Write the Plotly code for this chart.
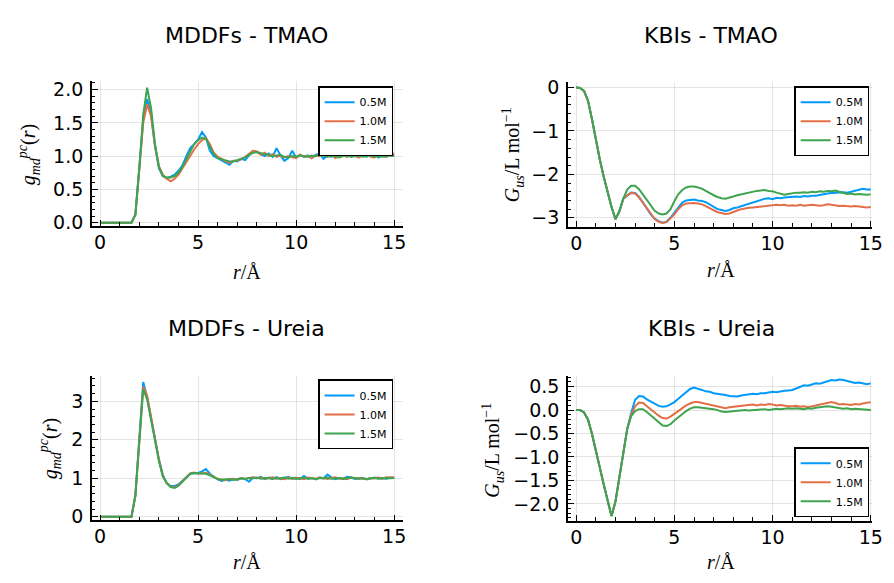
import plotly.graph_objects as go

# ---------------- data ----------------
r = [round(0.2 * i, 1) for i in range(76)]
labels = ["0.5M", "1.0M", "1.5M"]
colors = ["#009AFA", "#E36F47", "#3EA44E"]

# MDDFs - TMAO
mddf_tmao_05 = [0, 0, 0, 0, 0, 0, 0, 0, 0,
    0.12, 0.78, 1.55, 1.86, 1.62, 1.15, 0.82, 0.70, 0.67, 0.69, 0.72, 0.78, 0.86, 1.00, 1.12, 1.18,
    1.25, 1.36, 1.28, 1.08, 1.00, 0.97, 0.94, 0.90, 0.87, 0.93, 0.92, 0.96, 0.94, 1.01, 1.08, 1.06,
    1.03, 1.00, 1.04, 0.99, 1.12, 1.01, 0.93, 0.97, 1.08, 0.98, 1.02, 0.99, 1.01, 0.97, 1.02, 1.03,
    0.96, 1.01, 0.99, 1.04, 1.00, 1.02, 1.06, 0.99, 1.01, 0.98, 1.02, 0.99, 1.05, 1.04, 0.98, 1.01,
    0.99, 1.03, 1.02]
mddf_tmao_10 = [0, 0, 0, 0, 0, 0, 0, 0, 0,
    0.12, 0.76, 1.50, 1.78, 1.60, 1.16, 0.85, 0.72, 0.66, 0.62, 0.66, 0.72, 0.82, 0.92, 1.02, 1.10,
    1.18, 1.24, 1.27, 1.18, 1.05, 0.99, 0.96, 0.92, 0.90, 0.93, 0.93, 0.95, 0.99, 1.03, 1.08, 1.07,
    1.02, 1.05, 1.00, 1.03, 0.99, 1.01, 0.98, 1.00, 0.98, 0.97, 1.02, 0.99, 1.00, 0.97, 1.01, 1.00,
    1.03, 0.99, 1.02, 0.97, 1.00, 1.01, 0.99, 1.02, 1.00, 0.98, 1.01, 1.03, 0.99, 0.98, 1.01, 1.00,
    0.99, 1.02, 1.04]
mddf_tmao_15 = [0, 0, 0, 0, 0, 0, 0, 0, 0,
    0.12, 0.80, 1.62, 2.03, 1.72, 1.18, 0.84, 0.70, 0.68, 0.68, 0.70, 0.75, 0.84, 0.96, 1.08, 1.18,
    1.24, 1.28, 1.26, 1.14, 1.03, 0.97, 0.95, 0.93, 0.92, 0.92, 0.94, 0.96, 0.98, 1.02, 1.05, 1.06,
    1.04, 1.03, 1.02, 1.00, 1.01, 1.02, 0.99, 0.98, 1.00, 0.99, 1.01, 1.00, 0.99, 1.01, 1.00, 1.02,
    1.00, 0.99, 1.01, 1.00, 0.98, 1.00, 1.01, 0.99, 1.00, 1.01, 0.99, 1.00, 1.01, 0.99, 1.00, 0.99,
    1.00, 1.01, 1.00]

# KBIs - TMAO
kbi_tmao_05 = [0, -0.01, -0.08, -0.30, -0.72, -1.20, -1.65, -2.05, -2.40, -2.75, -3.03, -2.85, -2.56,
    -2.48, -2.42, -2.43, -2.52, -2.65, -2.79, -2.92, -3.02, -3.08, -3.11,
    -3.09, -3.00, -2.88, -2.75, -2.65, -2.60, -2.59, -2.58, -2.60, -2.61,
    -2.64, -2.70, -2.75, -2.80, -2.82, -2.84, -2.82, -2.78, -2.76, -2.73,
    -2.70, -2.68, -2.65, -2.62, -2.58, -2.56, -2.55, -2.57, -2.54, -2.55,
    -2.53, -2.52, -2.52, -2.51, -2.52, -2.50, -2.51, -2.49, -2.49, -2.47,
    -2.45, -2.44, -2.43, -2.42, -2.42, -2.41, -2.42, -2.40, -2.37, -2.35,
    -2.33, -2.35, -2.35]
kbi_tmao_10 = [0, -0.01, -0.08, -0.30, -0.72, -1.20, -1.65, -2.05, -2.40, -2.75, -3.03, -2.85, -2.56,
    -2.48, -2.43, -2.44, -2.53, -2.66, -2.80, -2.93, -3.03, -3.09, -3.12,
    -3.10, -3.02, -2.92, -2.80, -2.71, -2.67, -2.66, -2.66, -2.67, -2.69,
    -2.73, -2.78, -2.83, -2.87, -2.89, -2.91, -2.90, -2.86, -2.83, -2.80,
    -2.78, -2.77, -2.76, -2.75, -2.73, -2.72, -2.72, -2.71, -2.70, -2.71,
    -2.70, -2.72, -2.71, -2.72, -2.70, -2.72, -2.71, -2.70, -2.71, -2.72,
    -2.71, -2.69, -2.70, -2.72, -2.73, -2.72, -2.73, -2.74, -2.73, -2.74,
    -2.75, -2.76, -2.75]
kbi_tmao_15 = [0, -0.01, -0.08, -0.30, -0.72, -1.20, -1.65, -2.05, -2.40, -2.75, -3.03, -2.85, -2.56,
    -2.35, -2.26, -2.26, -2.34, -2.47, -2.61, -2.74, -2.84, -2.90, -2.92,
    -2.90, -2.80, -2.62, -2.46, -2.36, -2.30, -2.28, -2.28, -2.30, -2.33,
    -2.38, -2.44, -2.48, -2.52, -2.55, -2.56, -2.54, -2.51, -2.48, -2.46,
    -2.44, -2.41, -2.40, -2.38, -2.37, -2.36, -2.38, -2.39, -2.42, -2.45,
    -2.47, -2.45, -2.43, -2.42, -2.42, -2.41, -2.42, -2.40, -2.41, -2.39,
    -2.40, -2.38, -2.39, -2.37, -2.40, -2.43, -2.45, -2.44, -2.46, -2.45,
    -2.46, -2.47, -2.46]

# MDDFs - Ureia
mddf_ureia_05 = [0, 0, 0, 0, 0, 0, 0, 0, 0,
    0.55, 1.95, 3.50, 3.10, 2.55, 2.00, 1.50, 1.08, 0.88, 0.80, 0.80, 0.84, 0.94, 1.04, 1.12, 1.13,
    1.14, 1.18, 1.24, 1.12, 1.04, 0.97, 0.93, 0.96, 0.94, 0.98, 0.96, 1.00, 0.98, 0.91, 1.02, 1.00,
    1.04, 0.98, 1.02, 0.99, 1.03, 0.98, 1.01, 1.04, 0.99, 1.02, 0.98, 1.06, 0.99, 1.01, 0.97, 1.02,
    1.00, 1.10, 1.02, 0.98, 1.01, 0.99, 1.04, 1.02, 0.98, 1.00, 1.01, 0.97, 0.99, 1.02, 1.00, 1.01,
    0.99, 1.02, 1.01]
mddf_ureia_10 = [0, 0, 0, 0, 0, 0, 0, 0, 0,
    0.55, 1.92, 3.38, 3.15, 2.60, 2.02, 1.48, 1.06, 0.88, 0.78, 0.77, 0.82, 0.93, 1.04, 1.13, 1.15,
    1.12, 1.13, 1.14, 1.10, 1.03, 0.99, 0.97, 0.95, 0.98, 0.99, 0.97, 1.01, 0.99, 1.02, 1.03, 1.00,
    1.02, 0.99, 1.01, 1.03, 0.99, 1.00, 0.98, 1.02, 0.99, 1.01, 1.00, 0.98, 1.02, 1.00, 0.99, 1.02,
    1.00, 0.98, 1.01, 1.03, 0.99, 1.00, 0.98, 1.02, 1.00, 1.01, 0.99, 0.98, 1.01, 1.00, 1.02, 0.99,
    1.03, 1.02, 1.03]
mddf_ureia_15 = [0, 0, 0, 0, 0, 0, 0, 0, 0,
    0.55, 1.90, 3.32, 3.05, 2.48, 1.95, 1.45, 1.05, 0.87, 0.77, 0.75, 0.81, 0.92, 1.03, 1.12, 1.14,
    1.13, 1.12, 1.12, 1.08, 1.02, 0.98, 0.96, 0.97, 0.98, 0.96, 0.99, 1.00, 0.98, 1.01, 1.00, 1.02,
    0.99, 1.01, 1.00, 0.98, 1.01, 1.00, 1.02, 0.99, 1.01, 0.98, 1.00, 1.02, 0.99, 1.00, 0.98, 1.01,
    1.00, 1.02, 0.99, 1.00, 1.01, 0.98, 1.00, 1.02, 1.01, 0.99, 1.00, 0.98, 1.00, 1.01, 0.99, 1.00,
    1.01, 1.00, 1.01]

# KBIs - Ureia
kbi_ureia_05 = [0, 0, -0.05, -0.20, -0.50, -0.83, -1.22, -1.58, -1.89, -2.26, -1.95, -1.42, -0.84, -0.40,
    -0.06, 0.22, 0.30, 0.29, 0.23, 0.18, 0.13, 0.09, 0.07, 0.08,
    0.12, 0.17, 0.24, 0.31, 0.39, 0.45, 0.48, 0.46, 0.43, 0.40,
    0.39, 0.36, 0.35, 0.34, 0.32, 0.30, 0.30, 0.29, 0.31, 0.32,
    0.34, 0.35, 0.34, 0.36, 0.36, 0.38, 0.39, 0.38, 0.40, 0.41,
    0.42, 0.43, 0.46, 0.50, 0.53, 0.52, 0.55, 0.57, 0.56, 0.59,
    0.62, 0.64, 0.63, 0.65, 0.64, 0.62, 0.60, 0.58, 0.59, 0.57,
    0.55, 0.57]
kbi_ureia_10 = [0, 0, -0.05, -0.20, -0.50, -0.83, -1.22, -1.58, -1.89, -2.26, -1.95, -1.42, -0.84, -0.40,
    -0.10, 0.08, 0.16, 0.15, 0.08, 0.02, -0.05, -0.12, -0.17, -0.18,
    -0.14, -0.08, -0.02, 0.04, 0.10, 0.14, 0.17, 0.17, 0.15, 0.14,
    0.12, 0.10, 0.08, 0.05, 0.04, 0.06, 0.07, 0.08, 0.09, 0.10,
    0.11, 0.12, 0.10, 0.12, 0.11, 0.13, 0.12, 0.10, 0.11, 0.09,
    0.08, 0.08, 0.09, 0.07, 0.08, 0.06, 0.08, 0.10, 0.12, 0.14,
    0.16, 0.17, 0.15, 0.12, 0.13, 0.12, 0.11, 0.13, 0.12, 0.14,
    0.15, 0.17]
kbi_ureia_15 = [0, 0, -0.05, -0.20, -0.50, -0.83, -1.22, -1.58, -1.89, -2.26, -1.95, -1.42, -0.84, -0.40,
    -0.13, -0.02, 0.02, 0.02, -0.04, -0.11, -0.19, -0.27, -0.33, -0.34,
    -0.30, -0.22, -0.15, -0.08, -0.02, 0.03, 0.06, 0.06, 0.05, 0.05,
    0.04, 0.02, 0.00, -0.03, -0.04, -0.03, -0.02, -0.02, -0.01, 0.00,
    -0.01, 0.00, 0.01, 0.01, 0.02, 0.00, 0.01, 0.03, 0.02, 0.03,
    0.04, 0.03, 0.04, 0.03, 0.02, 0.04, 0.03, 0.05, 0.06, 0.07,
    0.08, 0.07, 0.06, 0.05, 0.03, 0.04, 0.02, 0.03, 0.02, 0.01,
    0.01, 0.00]

panels = [
    dict(series=[mddf_tmao_05, mddf_tmao_10, mddf_tmao_15], title="MDDFs - TMAO"),
    dict(series=[kbi_tmao_05, kbi_tmao_10, kbi_tmao_15], title="KBIs - TMAO"),
    dict(series=[mddf_ureia_05, mddf_ureia_10, mddf_ureia_15], title="MDDFs - Ureia"),
    dict(series=[kbi_ureia_05, kbi_ureia_10, kbi_ureia_15], title="KBIs - Ureia"),
]
for p in panels:
    for s in p["series"]:
        assert len(s) == len(r), (p["title"], len(s))

# ---------------- layout helpers ----------------
W, H = 894, 583


def px_x(x):
    return x / W


def px_y(y):
    return 1 - y / H


boxes = [  # (left, top, right, bottom) in pixels
    (93, 77, 408, 225),
    (575, 78, 883, 226),
    (93, 378, 408, 526),
    (575, 378, 883, 527),
]
xranges = [[-0.42, 15.45], [-0.42, 15.07], [-0.42, 15.45], [-0.42, 15.07]]
yranges = [[-0.05, 2.125], [-3.21, 0.12], [-0.09, 3.67], [-2.37, 0.736]]
ydticks = [0.5, 1, 1, 0.5]
yminor = [0.1, 0.2, 0.2, 0.1]
yformats = [".1f", "d", "d", ".1f"]

TICKFONT = dict(family="DejaVu Sans", size=19, color="black")
SERIF = "Liberation Serif"

fig = go.Figure()

for k, p in enumerate(panels):
    sfx = "" if k == 0 else str(k + 1)
    for j, s in enumerate(p["series"]):
        fig.add_trace(go.Scatter(
            x=r, y=s, mode="lines", name=labels[j],
            line=dict(color=colors[j], width=2),
            xaxis="x" + sfx, yaxis="y" + sfx,
            legend="legend" + sfx,
        ))
    L, T, R, B = boxes[k]
    common = dict(
        showline=True, linecolor="black", linewidth=1.5, mirror=False,
        ticks="inside", ticklen=6, tickwidth=1, tickcolor="black",
        showgrid=True, gridcolor="rgba(0,0,0,0.10)", gridwidth=1,
        zeroline=False, tickfont=TICKFONT, tick0=0,
    )
    fig.layout["xaxis" + sfx] = dict(
        common, domain=[px_x(L), px_x(R)], range=xranges[k], dtick=5,
        anchor="y" + sfx, ticklabelstandoff=-2,
        minor=dict(ticks="inside", ticklen=4, dtick=1, tick0=0, tickcolor="black",
                   tickwidth=1, showgrid=False),
    )
    fig.layout["yaxis" + sfx] = dict(
        common, domain=[px_y(B), px_y(T)], range=yranges[k], dtick=ydticks[k],
        anchor="x" + sfx, tickformat=yformats[k], ticklabelstandoff=3,
        minor=dict(ticks="inside", ticklen=3, dtick=yminor[k], tick0=0, tickcolor="black",
                   tickwidth=1, showgrid=False),
    )

# (x, y, yanchor)
legend_pos = [(398, 82, "top"), (880, 82, "top"), (398, 382, "top"), (880, 523, "bottom")]
for k, (lx, ly, ya) in enumerate(legend_pos):
    name = "legend" if k == 0 else "legend" + str(k + 1)
    fig.layout[name] = dict(
        x=px_x(lx), y=px_y(ly), xanchor="right", yanchor=ya,
        bgcolor="white", bordercolor="black", borderwidth=1.5,
        font=dict(family="DejaVu Sans", size=11, color="black"),
        itemwidth=30, tracegroupgap=0,
    )

annotations = []
title_pos = [(250, 30), (720, 30), (250, 330), (720, 330)]
for k, p in enumerate(panels):
    tx, ty = title_pos[k]
    annotations.append(dict(text=p["title"], x=px_x(tx), y=px_y(ty), xref="paper", yref="paper",
                            showarrow=False, xanchor="center", yanchor="middle",
                            font=dict(family="DejaVu Sans", size=22, color="black")))

xlabel = "<i>r</i>/Å"
gl = "<i>g</i><sub><i>md</i></sub><sup><i>pc</i></sup>(<i>r</i>)"
Gl = "<i>G</i><sub><i>us</i></sub>/L mol<sup>−1</sup>"
xlabel_pos = [(250, 272), (730, 270), (250, 569), (730, 569)]
for (x, y) in xlabel_pos:
    annotations.append(dict(text=xlabel, x=px_x(x), y=px_y(y), xref="paper", yref="paper",
                            showarrow=False, xanchor="center", yanchor="middle",
                            font=dict(family=SERIF, size=20, color="black")))
ylabel_pos = [(29, 152, gl), (519, 152, Gl), (51, 453, gl), (499, 454, Gl)]
for (x, y, t) in ylabel_pos:
    annotations.append(dict(text=t, x=px_x(x), y=px_y(y), xref="paper", yref="paper",
                            showarrow=False, xanchor="center", yanchor="middle", textangle=-90,
                            font=dict(family=SERIF, size=20, color="black")))

fig.update_layout(
    width=W, height=H, margin=dict(l=0, r=0, t=0, b=0),
    paper_bgcolor="white", plot_bgcolor="white",
    annotations=annotations, showlegend=True,
)

fig.write_html(
    "out.html",
    config={"displayModeBar": False},
    post_script="document.body.style.margin='0';document.body.style.padding='0';"
                "document.documentElement.style.overflow='hidden';",
)
